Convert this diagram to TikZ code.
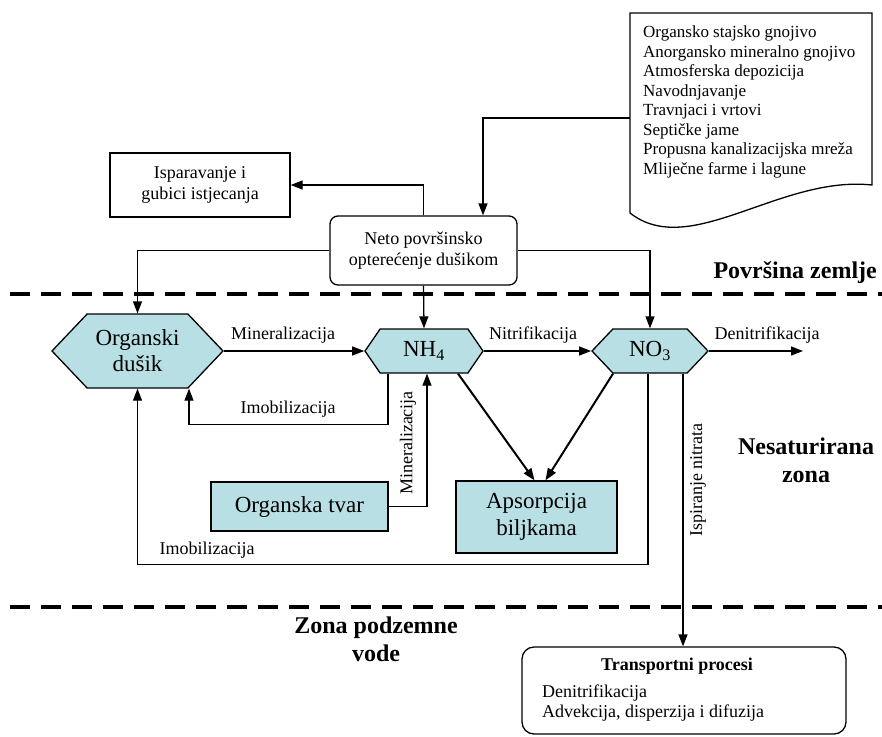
\documentclass[tikz,border=0pt]{standalone}
\usepackage{fontspec}
\setmainfont{Liberation Serif}
\usetikzlibrary{shapes.symbols,arrows.meta}
\definecolor{tirkiz}{RGB}{184,224,228}

\begin{document}
\begin{tikzpicture}[x=1pt,y=-1pt,
  strelica/.style={-{Triangle[length=12pt,width=9pt]},line width=1.3pt},
  deblja/.style={strelica,line width=2pt},
  granica/.style={line width=4pt,dash pattern=on 20pt off 11pt},
  heks/.style={signal,signal to=west and east,draw,fill=tirkiz,line width=1.3pt,inner sep=0pt,font=\fontsize{23}{26}\selectfont,align=center},
  kutija/.style={draw,fill=tirkiz,line width=1.3pt,inner sep=0pt,font=\fontsize{23}{27}\selectfont,align=center},
  okvir/.style={draw,line width=1.3pt,inner sep=0pt,font=\fontsize{18}{21}\selectfont,align=center},
  oznaka/.style={inner sep=0pt,font=\fontsize{18}{20}\selectfont},
  zona/.style={inner sep=0pt,font=\fontsize{24}{28}\selectfont\bfseries,align=center}]

\useasboundingbox (0,0) rectangle (882,736);

% granice zona
\draw[granica] (10,294) -- (882,294);
\draw[granica] (10,607) -- (882,607);

\node[zona,anchor=east] (povrsina) at (877,273) {Površina zemlje};
\node[zona] (nesat) at (806,460) {Nesaturirana\\zona};
\node[zona] (podzemna) at (376,639) {Zona podzemne\\vode};

% izvori dusika
\draw[line width=1.3pt] (630,213) -- (630,13) -- (872,13) -- (872,185)
  .. controls (780,175) and (690,260) .. (630,213);
\node[inner sep=0pt,anchor=north west,align=left,font=\fontsize{17}{19.5}\selectfont] (izvori) at (643,26)
  {Organsko stajsko gnojivo\\Anorgansko mineralno gnojivo\\Atmosferska depozicija\\Navodnjavanje\\Travnjaci i vrtovi\\Septičke jame\\Propusna kanalizacijska mreža\\Mliječne farme i lagune};
\coordinate (izlaz) at (630,118);

\node[okvir,rounded corners=8pt,minimum width=187pt,minimum height=69pt] (neto) at (423.5,250.5) {Neto površinsko\\opterećenje dušikom};
\node[okvir,minimum width=180pt,minimum height=64pt] (ispar) at (200,185) {Isparavanje i\\gubici istjecanja};

\node[heks,minimum width=171pt,minimum height=74pt,signal pointer angle=93] (organski) at (137.5,351) {Organski\\dušik};
\node[heks,minimum width=118pt,minimum height=44pt,signal pointer angle=111] (nh) at (424,351) {NH\textsubscript{4}};
\node[heks,minimum width=116pt,minimum height=44pt,signal pointer angle=93] (no3) at (650,351) {NO\textsubscript{3}};

\node[kutija,minimum width=177pt,minimum height=49pt] (tvar) at (299.5,506.5) {Organska tvar};
\node[kutija,minimum width=161pt,minimum height=72pt] (biljke) at (536.5,517) {Apsorpcija\\biljkama};

\node[draw,line width=1.3pt,rounded corners=12pt,minimum width=324pt,minimum height=87pt,inner sep=0pt] (transport) at (684,690.5) {};
\node[inner sep=0pt,font=\fontsize{18}{20}\selectfont\bfseries] (tnaslov) at (677,666) {Transportni procesi};
\node[inner sep=0pt,anchor=west,align=left,font=\fontsize{18}{20}\selectfont] (tlista) at (542,703) {Denitrifikacija\\Advekcija, disperzija i difuzija};

% tokovi
\draw[strelica] (izlaz) -| ([xshift=59.5pt]neto.north);
\draw[strelica] (neto.north) |- (ispar.east);
\draw[strelica] (neto.west) -| (organski.north);
\draw[strelica] (neto.east) -| (no3.north);
\draw[strelica] (neto.south) -- (nh.north);

\draw[strelica] (organski.east) -- (nh.west);
\draw[strelica] (nh.east) -- (no3.west);
\coordinate (denit) at (803,351);
\draw[strelica] (no3.east) -- (denit);

\draw[strelica] ([xshift=-36pt]nh.south) -- ++(0,51) -| ([xshift=51.5pt]organski.south);
\draw[strelica] (tvar.east) -| ([xshift=3pt]nh.south);
\draw[deblja] ([xshift=34pt]nh.south) -- ([xshift=-2pt]biljke.north);
\draw[deblja] ([xshift=-37pt]no3.south) -- ([xshift=9pt]biljke.north);
\draw[strelica] ([xshift=-2pt]no3.south) -- ++(0,191) -| (organski.south);
\draw[strelica] ([xshift=33pt]no3.south) -- ([xshift=33pt]no3.south |- transport.north);

% oznake
\node[oznaka] (lmin) at (283,335) {Mineralizacija};
\node[oznaka] (lnit) at (533,335) {Nitrifikacija};
\node[oznaka] (lden) at (767,335) {Denitrifikacija};
\node[oznaka] (limo) at (288,409) {Imobilizacija};
\node[oznaka,rotate=90] (lmin2) at (408,443) {Mineralizacija};
\node[oznaka] (limo2) at (207,550) {Imobilizacija};
\node[oznaka,rotate=90] (lisp) at (698,480) {Ispiranje nitrata};

\end{tikzpicture}
\end{document}
